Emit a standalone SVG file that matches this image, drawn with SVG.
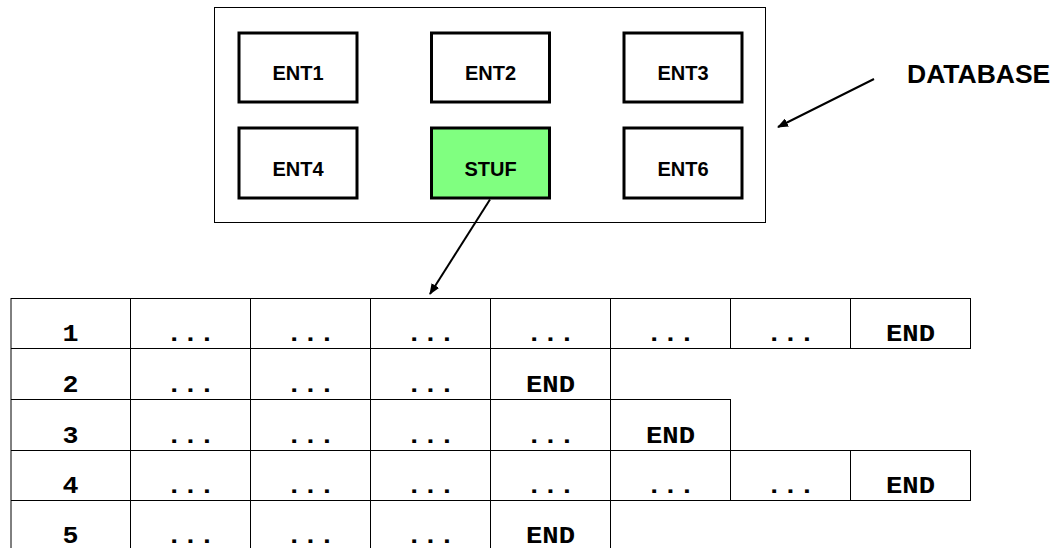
<svg xmlns="http://www.w3.org/2000/svg" width="1060" height="548" viewBox="0 0 1060 548">
<style>
.ent{fill:#fff;stroke:#000;stroke-width:3}
.lbl{font-family:"Liberation Sans",Arial,sans-serif;font-weight:bold;font-size:20px;text-anchor:middle;fill:#000}
.grid{stroke:#000;stroke-width:1;fill:none}
.m{font-family:"Liberation Mono","Courier New",monospace;font-weight:bold;font-size:24px;text-anchor:middle;fill:#000}
.conn{stroke:#000;stroke-width:2;fill:none}
</style>
<defs>
<marker id="ah" viewBox="0 0 11 9" refX="10" refY="4.5" markerWidth="11" markerHeight="9" markerUnits="userSpaceOnUse" orient="auto">
<path d="M0,0 L11,4.5 L0,9 Z" fill="#000"/>
</marker>
</defs>
<rect width="1060" height="548" fill="#fff"/>
<g id="database">
<rect x="214.5" y="7.5" width="551" height="215" fill="#fff" stroke="#000" stroke-width="1"/>
</g>
<g id="ENT1"><rect class="ent" x="239" y="33" width="118" height="69"/><text class="lbl" x="298" y="80">ENT1</text></g>
<g id="ENT2"><rect class="ent" x="431.5" y="33" width="118" height="69"/><text class="lbl" x="490.5" y="80">ENT2</text></g>
<g id="ENT3"><rect class="ent" x="624" y="33" width="118" height="69"/><text class="lbl" x="683" y="80">ENT3</text></g>
<g id="ENT4"><rect class="ent" x="239" y="128" width="118" height="70"/><text class="lbl" x="298" y="176">ENT4</text></g>
<g id="STUF"><rect class="ent" x="431.5" y="128" width="118" height="70" style="fill:#80ff80"/><text class="lbl" x="490.5" y="176">STUF</text></g>
<g id="ENT6"><rect class="ent" x="624" y="128" width="118" height="70"/><text class="lbl" x="683" y="176">ENT6</text></g>
<g id="label-database"><text x="907" y="83" style="font-family:'Liberation Sans',Arial,sans-serif;font-weight:bold;font-size:26.5px;fill:#000">DATABASE</text></g>
<g id="table">
<g class="grid">
<path d="M11,298.5H970.5 M11,348.5H970.5 M11,399.5H730.5 M11,450.5H970.5 M11,500.5H970.5"/>
<path d="M11,298V548 M130.5,298V548 M250.5,298V548 M370.5,298V548 M490.5,298V548 M610.5,298V548 M730.5,298V349 M730.5,399V501 M850.5,298V349 M850.5,450V501 M970.5,298V349 M970.5,450V501"/>
</g>
<g id="row1">
<text class="m" x="70.5" y="341" textLength="16" lengthAdjust="spacingAndGlyphs">1</text>
<text class="m" x="190.5" y="341" textLength="49" lengthAdjust="spacingAndGlyphs">...</text>
<text class="m" x="310.5" y="341" textLength="49" lengthAdjust="spacingAndGlyphs">...</text>
<text class="m" x="430.5" y="341" textLength="49" lengthAdjust="spacingAndGlyphs">...</text>
<text class="m" x="550.5" y="341" textLength="49" lengthAdjust="spacingAndGlyphs">...</text>
<text class="m" x="670.5" y="341" textLength="49" lengthAdjust="spacingAndGlyphs">...</text>
<text class="m" x="790.5" y="341" textLength="49" lengthAdjust="spacingAndGlyphs">...</text>
<text class="m" x="910.5" y="341" textLength="49" lengthAdjust="spacingAndGlyphs">END</text>
</g>
<g id="row2">
<text class="m" x="70.5" y="392" textLength="16" lengthAdjust="spacingAndGlyphs">2</text>
<text class="m" x="190.5" y="392" textLength="49" lengthAdjust="spacingAndGlyphs">...</text>
<text class="m" x="310.5" y="392" textLength="49" lengthAdjust="spacingAndGlyphs">...</text>
<text class="m" x="430.5" y="392" textLength="49" lengthAdjust="spacingAndGlyphs">...</text>
<text class="m" x="550.5" y="392" textLength="49" lengthAdjust="spacingAndGlyphs">END</text>
</g>
<g id="row3">
<text class="m" x="70.5" y="443" textLength="16" lengthAdjust="spacingAndGlyphs">3</text>
<text class="m" x="190.5" y="443" textLength="49" lengthAdjust="spacingAndGlyphs">...</text>
<text class="m" x="310.5" y="443" textLength="49" lengthAdjust="spacingAndGlyphs">...</text>
<text class="m" x="430.5" y="443" textLength="49" lengthAdjust="spacingAndGlyphs">...</text>
<text class="m" x="550.5" y="443" textLength="49" lengthAdjust="spacingAndGlyphs">...</text>
<text class="m" x="670.5" y="443" textLength="49" lengthAdjust="spacingAndGlyphs">END</text>
</g>
<g id="row4">
<text class="m" x="70.5" y="493" textLength="16" lengthAdjust="spacingAndGlyphs">4</text>
<text class="m" x="190.5" y="493" textLength="49" lengthAdjust="spacingAndGlyphs">...</text>
<text class="m" x="310.5" y="493" textLength="49" lengthAdjust="spacingAndGlyphs">...</text>
<text class="m" x="430.5" y="493" textLength="49" lengthAdjust="spacingAndGlyphs">...</text>
<text class="m" x="550.5" y="493" textLength="49" lengthAdjust="spacingAndGlyphs">...</text>
<text class="m" x="670.5" y="493" textLength="49" lengthAdjust="spacingAndGlyphs">...</text>
<text class="m" x="790.5" y="493" textLength="49" lengthAdjust="spacingAndGlyphs">...</text>
<text class="m" x="910.5" y="493" textLength="49" lengthAdjust="spacingAndGlyphs">END</text>
</g>
<g id="row5">
<text class="m" x="70.5" y="543" textLength="16" lengthAdjust="spacingAndGlyphs">5</text>
<text class="m" x="190.5" y="543" textLength="49" lengthAdjust="spacingAndGlyphs">...</text>
<text class="m" x="310.5" y="543" textLength="49" lengthAdjust="spacingAndGlyphs">...</text>
<text class="m" x="430.5" y="543" textLength="49" lengthAdjust="spacingAndGlyphs">...</text>
<text class="m" x="550.5" y="543" textLength="49" lengthAdjust="spacingAndGlyphs">END</text>
</g>
</g>
<g id="connectors">
<line class="conn" x1="874" y1="79" x2="778" y2="127" marker-end="url(#ah)"/>
<line class="conn" x1="490" y1="199.5" x2="430" y2="294" marker-end="url(#ah)"/>
</g>
</svg>
